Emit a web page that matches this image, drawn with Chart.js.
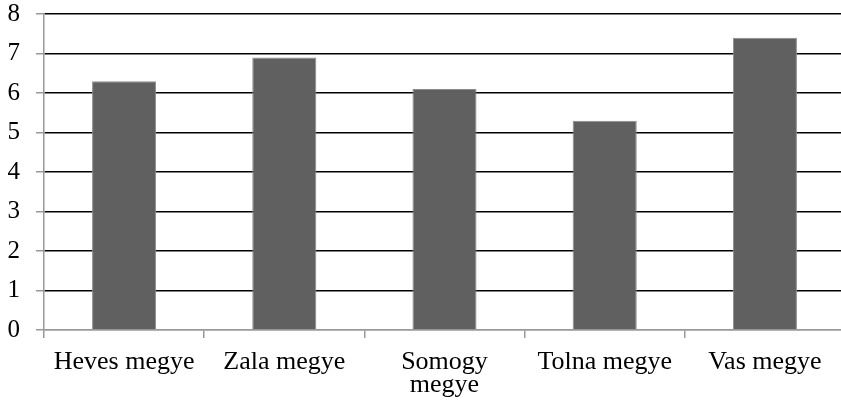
<!DOCTYPE html>
<html>
<head>
<meta charset="utf-8">
<script src="https://cdn.jsdelivr.net/npm/chart.js@4/dist/chart.umd.min.js"></script>
<style>
    html, body { margin: 0; padding: 0; background: #fff; overflow: hidden; }
    #wrap { width: 846px; height: 408px; }
</style>
</head>
<body>
<div id="wrap"><canvas id="chart" width="846" height="408"></canvas></div>
<script>
const categories = ["Heves megye", "Zala megye", ["Somogy", "megye"], "Tolna megye", "Vas megye"];
const values = [6.3, 6.9, 6.1, 5.3, 7.4];
const yTicks = [0, 1, 2, 3, 4, 5, 6, 7, 8];

(() => {
    const $ = query => document.querySelector(query);
    const xFont = { family: "'Liberation Serif', 'Times New Roman', serif", size: 26, lineHeight: 0.9 };
    const yFont = { family: "'Liberation Serif', 'Times New Roman', serif", size: 25, lineHeight: 1 };
    const axisGray = "#999";

    new Chart($("#chart"), {
        type: "bar",
        data: {
            labels: categories,
            datasets: [{
                data: values,
                backgroundColor: "#606060",
                borderColor: "#8c8c8c",
                borderWidth: 1,
                barPercentage: 0.4,
                categoryPercentage: 1
            }]
        },
        options: {
            responsive: false,
            animation: false,
            layout: { padding: { top: 14, right: 1, bottom: 0, left: 0 } },
            plugins: { legend: { display: false }, tooltip: { enabled: false } },
            scales: {
                x: {
                    grid: { offset: true, drawOnChartArea: false, tickLength: 8, color: axisGray, lineWidth: 1.5 },
                    border: { color: axisGray, width: 1.5 },
                    ticks: { color: "#000", font: xFont, padding: 12, maxRotation: 0, autoSkip: false },
                    afterFit: scale => { scale.height = 78; }
                },
                y: {
                    min: 0,
                    max: 8,
                    afterBuildTicks: scale => { scale.ticks = yTicks.map(v => ({ value: v })); },
                    grid: {
                        color: c => c.tick && c.tick.value === 0 ? axisGray : "#000",
                        tickColor: axisGray,
                        lineWidth: 1.5,
                        tickLength: 8
                    },
                    border: { color: axisGray, width: 1.5 },
                    ticks: { color: "#000", font: yFont, padding: 16 },
                    afterFit: scale => {
                        scale.width = 44;
                        scale.paddingTop = 0;
                        scale.paddingBottom = 0;
                    }
                }
            }
        }
    });
})();
</script>
</body>
</html>
